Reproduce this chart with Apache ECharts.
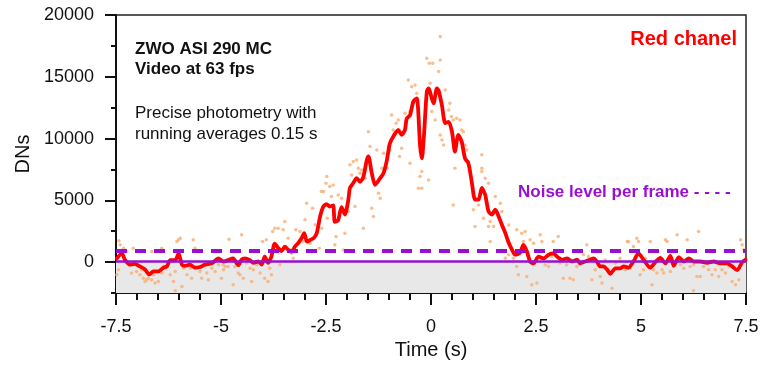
<!DOCTYPE html>
<html>
<head>
<meta charset="utf-8">
<title>Red chanel - ZWO ASI 290 MC</title>
<script src="https://cdn.jsdelivr.net/npm/echarts@6/dist/echarts.min.js"></script>
<style>
  html, body { margin: 0; padding: 0; background: #fff; }
  #chart { width: 768px; height: 368px; }
</style>
</head>
<body>
<div id="chart"></div>
<script>
// running average (0.15 s)
const smoothT = [
  -7.48, -7.36, -7.29, -7.17, -7.05, -6.93, -6.81, -6.71, -6.61, -6.49,
  -6.37, -6.29, -6.21, -6.09, -6.01, -5.93, -5.86, -5.74, -5.62, -5.50,
  -5.38, -5.22, -5.06, -4.94, -4.85, -4.71, -4.59, -4.51, -4.43, -4.31,
  -4.23, -4.11, -4.03, -3.96, -3.88, -3.80, -3.72, -3.64, -3.56, -3.48,
  -3.40, -3.32, -3.24, -3.16, -3.08, -3.02, -2.95, -2.87, -2.79, -2.72,
  -2.64, -2.57, -2.49, -2.41, -2.33, -2.29, -2.21, -2.13, -2.05, -1.97,
  -1.93, -1.85, -1.77, -1.69, -1.61, -1.53, -1.49, -1.41, -1.33, -1.21,
  -1.13, -1.05, -0.98, -0.90, -0.78, -0.70, -0.62, -0.58, -0.50, -0.42,
  -0.34, -0.26, -0.22, -0.17, -0.10, -0.06, 0.06, 0.14, 0.18, 0.26,
  0.34, 0.42, 0.50, 0.57, 0.65, 0.73, 0.81, 0.89, 0.97, 1.05,
  1.13, 1.21, 1.29, 1.37, 1.45, 1.53, 1.61, 1.69, 1.77, 1.84,
  1.93, 2.00, 2.12, 2.20, 2.28, 2.36, 2.44, 2.56, 2.68, 2.80,
  2.92, 3.00, 3.12, 3.24, 3.36, 3.48, 3.55, 3.67, 3.79, 3.87,
  3.95, 4.03, 4.11, 4.19, 4.27, 4.39, 4.51, 4.59, 4.70, 4.82,
  4.94, 5.06, 5.22, 5.34, 5.46, 5.58, 5.70, 5.78, 5.90, 6.02,
  6.14, 6.26, 6.41, 6.57, 6.73, 6.89, 7.05, 7.17, 7.29, 7.41, 7.49
];
const smoothDN = [
  300, 700, 200, -200, -150, -350, -600, -1000, -750, -750,
  -450, -350, 150, 150, 700, -200, -300, -200, -450, -400,
  -200, -100, 300, 50, 150, 300, -250, 200, 300, 150,
  -50, 50, -200, 450, -50, 450, 1500, 1150, 900, 1250,
  1000, 850, 1250, 1550, 1950, 2350, 1650, 1800, 1950, 2350,
  3700, 4450, 4700, 4500, 4600, 3250, 3400, 4450, 3850, 5000,
  6000, 6400, 6800, 6500, 6900, 8250, 8550, 7200, 6250, 6800,
  7200, 8250, 9600, 10150, 10700, 10300, 10700, 11600, 11900, 13000,
  13250, 9400, 8400, 10150, 13800, 14050, 12850, 14050, 13900, 12700,
  11250, 11350, 10550, 8950, 10300, 9750, 8400, 8000, 6500, 5050,
  5050, 6000, 5450, 4100, 3850, 4250, 3700, 3000, 2350, 1650,
  1000, 600, 750, 1400, 900, 50, -100, 450, 300, 600,
  700, 450, 200, 300, 50, 200, -100, 50, 200, 300,
  50, -350, -350, -600, -950, -500, -500, -350, -450, 50,
  700, 200, -450, 0, 350, -100, 500, -300, 400, 50,
  300, 50, 50, -50, 50, -100, -100, -350, -650, 0, 200
];

// single frames (orange dots)
const rawT = [
  -7.43, -7.40, -7.32, -7.48, -7.44, -7.24, -7.13, -7.09, -7.01, -6.93,
  -6.85, -6.81, -6.77, -6.73, -6.65, -6.61, -6.57, -6.49, -6.41, -6.33,
  -6.25, -6.21, -6.13, -6.09, -6.05, -6.01, -5.97, -5.93, -5.89, -5.81,
  -5.73, -5.70, -5.66, -5.62, -5.58, -5.50, -5.46, -5.42, -5.34, -5.30,
  -5.22, -5.14, -5.06, -4.94, -4.90, -6.09, -6.65, -6.89, -6.41,
  -4.99, -4.95, -4.83, -4.81, -4.71, -4.67, -4.59, -4.55, -4.51, -4.47,
  -4.39, -4.31, -4.27, -4.23, -4.15, -4.07, -4.01, -3.96, -3.92, -3.88,
  -3.84, -3.80, -3.77, -3.72, -3.64, -3.60, -3.52, -3.48, -3.40, -3.32,
  -3.28, -3.22, -3.12, -3.04, -3.00, -2.96, -2.88, -2.82, -2.76, -2.66,
  -2.61, -2.50, -2.47,
  -2.60, -2.56, -2.48, -2.41, -2.37, -2.33, -2.29, -2.26, -2.21, -2.13,
  -2.09, -2.05, -1.97, -1.93, -1.89, -1.85, -1.81, -1.77, -1.73, -1.69,
  -1.65, -1.61, -1.57, -1.49, -1.45, -1.41, -1.37, -1.29, -1.25, -1.21,
  -1.17, -1.13, -1.05, -1.01, -0.98, -0.94, -0.90, -0.83, -0.78, -0.75,
  -0.70, -0.62, -0.54, -0.50, -0.46, -0.38, -0.34, -0.30, -0.26, -0.18,
  -0.06, -0.50,
  0.22, -0.10, -0.04, 0.04, 0.18, 0.22, -0.02, 0.34, 0.02, 0.10,
  0.42, 0.45, 0.49, 0.53, 0.22, 0.26, 0.30, 0.57, 0.61, 0.69,
  0.73, 0.77, 0.81, 0.85, 0.89, 0.53, -0.22, -0.22, 1.21, 1.21,
  1.29, 1.37, 1.13, 1.01, 1.25, 1.37, 1.41, 1.53, 1.65, 1.69,
  1.85, 1.49, 1.41, 2.04, 2.16, 1.21, 1.05, 1.96, 2.04, 2.08,
  1.85, 1.77,
  2.24, 2.20, 2.36, 2.44, 2.60, 2.64, 2.72, 2.80, 2.87, 2.91,
  2.95, 3.03, 3.07, 3.15, 3.23, 3.31, 3.39, 3.47, 3.51, 3.63,
  3.71, 3.75, 3.83, 3.91, 4.03, 4.07, 4.15, 4.23, 4.31, 4.39,
  4.50, 4.62, 4.70, 4.74, 2.28, 2.52, 2.40,
  4.82, 4.90, 4.94, 4.98, 5.06, 5.10, 5.26, 5.30, 5.38, 5.50,
  5.54, 5.58, 5.62, 5.70, 5.86, 5.94, 6.02, 6.10, 6.17, 6.25,
  6.33, 6.41, 6.37, 6.49, 6.61, 6.69, 6.77, 6.85, 6.93, 7.01,
  7.09, 7.17, 7.25, 7.33, 7.37, 7.41, 7.45, 6.25, 5.22, 4.67
];
const rawDN = [
  1720, 1400, 1130, -1030, -620, 860, -890, 1130, -760, -1030,
  -1300, -1570, -1430, -1300, -1430, -1030, -1700, -1570, -890, -490,
  -220, -1030, -1570, -760, 1670, 1800, 1940, -1970, -490, -1030,
  -490, -1300, 1800, 1130, -490, -760, -1300, -220, -890, -1430,
  -490, -760, -220, -620, -350, -2320, 860, -620, 1130,
  -1300, -220, -350, 1860, -1840, -350, -890, -1030, 2210, -1300,
  -80, -490, -1570, -620, -220, -890, 1670, -1300, 1800, -1570,
  -490, -1030, 2480, 2740, 2740, -220, 2610, 3290, 1940, 720,
  320, 2610, 2480, 1670, 3420, 4770, 1530, 4360, 3020, 1130,
  5710, 6390, 3550,
  2745, 5710, 6920, 6115, 5305, 6250, 1400, 2070, 5440, 5170,
  990, 2340, 4090, 7870, 7060, 8140, 4500, 8270, 7600, 7190,
  7460, 2745, 6790, 10560, 9350, 4360, 3690, 9080, 5570, 5170,
  7600, 8810, 7600, 9350, 9080, 11910, 10700, 11240, 11510, 8540,
  9220, 12050, 14740, 8000, 14200, 14340, 13660, 5980, 6920, 8810,
  6650, 12180,
  18250, 16490, 16090, 16090, 15420, 16360, 14470, 13930, 12180, 11510,
  12320, 12850, 11780, 11510, 10290, 9890, 9480, 7600, 11640, 11510,
  10700, 10560, 9480, 9080, 8140, 4630, 7330, 5980, 8680, 7600,
  6790, 6390, 4630, 4230, 3550, 2880, 3280, 5310, 4770, 4090,
  3010, 2880, 1670, 2610, 2340, 7330, 2880, 320, -360, -1030,
  590, 320,
  2480, 1670, 1800, 1530, 2210, 1670, -220, -350, 450, 1670,
  860, 2070, -80, -1300, -220, -1300, -1430, -350, 860, 590,
  1400, 450, -1430, -620, -1160, -1700, 180, -620, -2110, -80,
  320, -620, 1670, -490, -1160, -1700, -1840,
  1260, 1940, 1670, -1030, -620, 320, -1840, -620, -890, -620,
  -890, 1800, 1670, -760, 2210, -220, -490, 1800, -350, -220,
  -1160, -1160, 2480, -350, -620, -1030, -620, -1160, -620, -890,
  -350, -1570, -1840, -1430, 1800, 1400, 1000, -2320, 1670, 1670
];

const noiseLevel = 900;
const zeroLevel = 100;

const FONT = 'Liberation Sans, Arial, sans-serif';
const PURPLE = '#9A0FCF';
const INK = '#111';

const smoothData = smoothT.map((t, i) => [t, smoothDN[i]]);
const rawData = rawT.map((t, i) => [t, rawDN[i]]);

// plot box
const PLOT_TOP = 15;
const PLOT_H = 278;
const Y_MIN = -2500;
const Y_MAX = 20000;

// the y ticks sit in two narrow strips left of the plot (their split lines act as ticks)
const hiddenX = (gridIndex) => ({ type: 'value', gridIndex, show: false, min: 0, max: 1 });
const tickStripY = (gridIndex, min, interval) => ({
  type: 'value',
  gridIndex,
  min,
  max: Y_MAX,
  interval,
  axisLine: { show: false },
  axisTick: { show: false },
  axisLabel: { show: false },
  splitLine: { show: true, lineStyle: { color: INK, width: 2 } }
});

const chart = echarts.init(document.getElementById('chart'), null, { renderer: 'canvas' });

const option = {
  animation: false,
  backgroundColor: '#fff',
  textStyle: { fontFamily: FONT },
  grid: [
    {
      left: 116,
      right: 22,
      top: PLOT_TOP,
      height: PLOT_H,
      show: true,
      borderColor: '#222',
      borderWidth: 1.5,
      backgroundColor: 'transparent'
    },
    // long ticks, 0 .. 20000 every 5000
    { left: 105, width: 11, top: PLOT_TOP, height: PLOT_H * (Y_MAX / (Y_MAX - Y_MIN)) },
    // short ticks, every 2500
    { left: 111, width: 5, top: PLOT_TOP, height: PLOT_H }
  ],
  xAxis: [
    {
      type: 'value',
      gridIndex: 0,
      min: -7.5,
      max: 7.5,
      interval: 2.5,
      name: 'Time (s)',
      nameLocation: 'middle',
      nameGap: 47,
      nameTextStyle: { fontSize: 20, color: INK, fontFamily: FONT },
      axisLine: { show: true, onZero: false, lineStyle: { color: INK, width: 2 } },
      axisTick: { show: true, inside: false, length: 12, lineStyle: { color: INK, width: 2 } },
      minorTick: { show: true, splitNumber: 5, length: 7, lineStyle: { color: INK, width: 2 } },
      axisLabel: {
        fontSize: 18,
        color: INK,
        margin: 25,
        formatter: (v) => String(v)
      },
      splitLine: { show: false }
    },
    hiddenX(1),
    hiddenX(2)
  ],
  yAxis: [
    {
      type: 'value',
      gridIndex: 0,
      min: Y_MIN,
      max: Y_MAX,
      interval: 2500,
      name: 'DNs',
      nameLocation: 'middle',
      nameGap: 75,
      nameTextStyle: { fontSize: 20, color: INK, fontFamily: FONT },
      axisLine: { show: true, onZero: false, lineStyle: { color: INK, width: 2 } },
      axisTick: { show: true, inside: false, length: 5, lineStyle: { color: INK, width: 2 } },
      axisLabel: {
        fontSize: 18,
        color: INK,
        margin: 22,
        formatter: (v) => (v % 5000 === 0 ? String(v) : '')
      },
      splitLine: { show: false }
    },
    tickStripY(1, 0, 5000),
    tickStripY(2, Y_MIN, 2500)
  ],
  series: [
    {
      name: 'below zero',
      type: 'line',
      data: [],
      silent: true,
      z: 1,
      markArea: {
        silent: true,
        itemStyle: { color: '#E8E8E8' },
        data: [[{ yAxis: Y_MIN }, { yAxis: 0 }]]
      }
    },
    {
      name: 'frames',
      type: 'scatter',
      data: rawData,
      symbolSize: 3.5,
      silent: true,
      z: 2,
      itemStyle: { color: '#F9AE72', opacity: 0.8 }
    },
    {
      name: 'noise',
      type: 'line',
      data: [],
      silent: true,
      z: 3,
      markLine: {
        silent: true,
        symbol: 'none',
        label: { show: false },
        data: [
          { yAxis: zeroLevel, lineStyle: { color: PURPLE, type: 'solid', width: 2.5 } },
          { yAxis: noiseLevel, lineStyle: { color: PURPLE, type: [11, 8], width: 4 } }
        ]
      }
    },
    {
      name: 'Red chanel',
      type: 'line',
      data: smoothData,
      showSymbol: false,
      smooth: 0.25,
      silent: true,
      z: 4,
      lineStyle: { color: '#FF0000', width: 3.8, join: 'round', cap: 'round' }
    }
  ],
  graphic: [
    { type: 'text', left: 135, top: 41, style: { text: 'ZWO ASI 290 MC', font: 'bold 17px ' + FONT, fill: INK } },
    { type: 'text', left: 135, top: 61, style: { text: 'Video at 63 fps', font: 'bold 17px ' + FONT, fill: INK } },
    { type: 'text', left: 135, top: 105, style: { text: 'Precise photometry with', font: '17px ' + FONT, fill: INK } },
    { type: 'text', left: 135, top: 126, style: { text: 'running averages 0.15 s', font: '17px ' + FONT, fill: INK } },
    { type: 'text', right: 31, top: 29, style: { text: 'Red chanel', font: 'bold 20px ' + FONT, fill: '#FF0000' } },
    { type: 'text', left: 518, top: 184, style: { text: 'Noise level per frame - - - -', font: 'bold 17px ' + FONT, fill: PURPLE } }
  ]
};

chart.setOption(option);

window.addEventListener('resize', () => chart.resize());
</script>
</body>
</html>
